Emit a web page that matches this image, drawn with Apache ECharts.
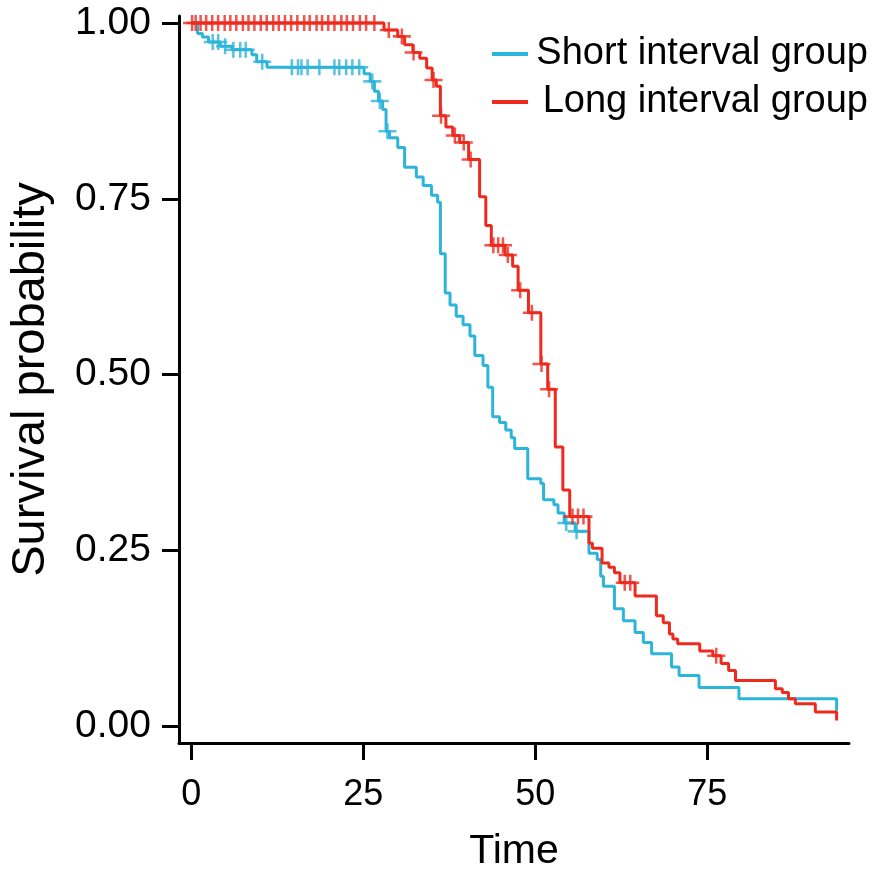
<!DOCTYPE html>
<html><head><meta charset="utf-8">
<script src="https://cdn.jsdelivr.net/npm/echarts@6/dist/echarts.min.js"></script>
<style>html,body{margin:0;padding:0;background:#fff}#c{width:886px;height:877px}</style>
</head><body><div id="c"></div>
<script>
const xTicks = [0, 25, 50, 75];
const yTicks = [0, 0.25, 0.5, 0.75, 1];
const groupNames = ['Short interval group', 'Long interval group'];

const shortTimes = [0, 0.9, 1.6, 2.5, 4.2, 5.9, 8.8, 9.5, 11.0, 25.1, 26.0, 26.6, 27.2, 27.8, 28.3, 28.8, 30.0, 31.0, 32.7, 33.7, 34.9, 35.8, 36.2, 36.9, 37.6, 38.5, 39.5, 40.5, 41.2, 42.4, 43.1, 43.8, 44.8, 45.7, 46.5, 47.0, 48.9, 50.8, 51.2, 52.7, 53.3, 54.2, 55.8, 57.8, 59.0, 59.5, 59.9, 61.5, 62.8, 64.5, 65.7, 66.9, 69.8, 70.9, 73.8, 79.6, 93.8];
const shortSurv  = [1.0, 0.985, 0.98, 0.973, 0.967, 0.962, 0.955, 0.945, 0.937, 0.928, 0.917, 0.903, 0.889, 0.877, 0.846, 0.837, 0.823, 0.795, 0.781, 0.769, 0.755, 0.745, 0.672, 0.616, 0.599, 0.583, 0.571, 0.555, 0.527, 0.513, 0.482, 0.44, 0.432, 0.421, 0.41, 0.395, 0.352, 0.345, 0.322, 0.315, 0.303, 0.289, 0.277, 0.246, 0.237, 0.213, 0.199, 0.167, 0.15, 0.133, 0.119, 0.103, 0.084, 0.072, 0.055, 0.039, 0.022];
const shortCensor = [3.1, 3.9, 4.9, 6.1, 7.1, 7.9, 10.3, 14.6, 15.5, 16.0, 16.9, 18.6, 20.8, 21.5, 22.5, 23.4, 24.4, 26.3, 27.4, 28.5, 54.5, 56.0];

const longTimes = [0, 28.0, 30.0, 31.0, 32.2, 33.2, 34.2, 35.0, 35.6, 36.2, 37.0, 38.0, 39.0, 40.3, 41.9, 42.8, 43.6, 45.6, 46.7, 47.5, 49.0, 50.8, 51.8, 52.9, 54.0, 55.0, 57.8, 58.3, 59.7, 60.7, 61.5, 62.3, 64.5, 67.6, 68.6, 69.5, 70.0, 70.7, 73.9, 75.8, 77.0, 78.1, 79.1, 84.9, 85.9, 86.8, 87.8, 90.7, 93.8];
const longSurv  = [1.0, 0.99, 0.981, 0.969, 0.958, 0.95, 0.936, 0.919, 0.91, 0.868, 0.852, 0.84, 0.83, 0.806, 0.753, 0.712, 0.684, 0.67, 0.654, 0.62, 0.588, 0.515, 0.479, 0.397, 0.336, 0.298, 0.26, 0.253, 0.232, 0.226, 0.218, 0.204, 0.185, 0.157, 0.147, 0.131, 0.124, 0.117, 0.107, 0.10, 0.089, 0.079, 0.065, 0.053, 0.048, 0.039, 0.032, 0.02, 0.008];
const longCensor = [0.1, 0.62, 1.34, 2.15, 3.03, 3.89, 4.84, 5.66, 6.53, 7.49, 8.30, 9.16, 10.09, 10.95, 11.9, 12.7, 13.6, 14.5, 15.4, 16.4, 17.2, 18.2, 19.0, 19.9, 20.8, 21.8, 22.6, 23.5, 24.5, 25.4, 26.6, 28.7, 30.6, 32.3, 35.2, 36.3, 38.3, 39.6, 40.6, 43.9, 44.6, 45.3, 46.0, 47.8, 49.5, 50.9, 52.0, 55.4, 56.2, 57.0, 63.0, 63.8, 76.3];

const colors = ['#2db4d9', '#ee2a1e'];
const FONT = '"Liberation Sans", Arial, Helvetica, sans-serif';

function survAt(times, surv, t) {
  let s = surv[0];
  for (let i = 0; i < times.length; i++) if (times[i] <= t) s = surv[i];
  return s;
}
function stepData(times, surv) { return times.map((t, i) => [t, surv[i]]); }
function censorData(times, surv, cens) { return cens.map(t => [t, survAt(times, surv, t)]); }

const crossPath = 'path://M-0.14,-1H0.14V-0.16H1V0.16H0.14V1H-0.14V0.16H-1V-0.16H-0.14Z';

const chart = echarts.init(document.getElementById('c'), null, {renderer: 'canvas'});
chart.setOption({
  animation: false,
  backgroundColor: '#fff',
  grid: {left: 173, top: 16, width: 676, height: 732},
  legend: {
    orient: 'vertical', left: 492, top: 34, itemGap: 8, padding: 0,
    itemWidth: 36, itemHeight: 4,
    data: groupNames.map(n => ({name: n, icon: 'rect'})),
    formatter: n => '{a|' + n + '}',
    textStyle: {
      fontFamily: FONT, fontSize: 38, color: '#000', lineHeight: 40,
      rich: {a: {width: 335, align: 'right', fontFamily: FONT, fontSize: 38, color: '#000', lineHeight: 40}}
    }
  },
  xAxis: {
    type: 'value', min: -1.8, max: 95.6,
    name: 'Time', nameLocation: 'middle', nameGap: 88,
    nameTextStyle: {fontFamily: FONT, fontSize: 41, color: '#000'},
    axisLine: {show: true, onZero: false, lineStyle: {color: '#000', width: 3}},
    axisTick: {show: true, customValues: xTicks, length: 17, lineStyle: {color: '#000', width: 3}},
    axisLabel: {customValues: xTicks, fontFamily: FONT, fontSize: 36, color: '#000', margin: 34},
    splitLine: {show: false}
  },
  yAxis: {
    type: 'value', min: -0.024, max: 1.01,
    name: 'Survival probability', nameLocation: 'middle', nameGap: 124, nameRotate: 90,
    nameTextStyle: {fontFamily: FONT, fontSize: 47, color: '#000'},
    axisLine: {show: true, onZero: false, lineStyle: {color: '#000', width: 3}},
    axisTick: {show: true, customValues: yTicks, length: 17, lineStyle: {color: '#000', width: 3}},
    axisLabel: {customValues: yTicks, formatter: v => v.toFixed(2), fontFamily: FONT, fontSize: 39, color: '#000', margin: 28},
    splitLine: {show: false}
  },
  series: [
    {name: groupNames[0], type: 'line', step: 'end', showSymbol: false, color: colors[0],
     lineStyle: {width: 3, color: colors[0]}, data: stepData(shortTimes, shortSurv), z: 2},
    {name: groupNames[1], type: 'line', step: 'end', showSymbol: false, color: colors[1],
     lineStyle: {width: 3, color: colors[1]}, data: stepData(longTimes, longSurv), z: 3},
    {name: 'short-censor', type: 'scatter', symbol: crossPath, symbolSize: [18, 16],
     itemStyle: {color: colors[0]}, data: censorData(shortTimes, shortSurv, shortCensor), z: 4},
    {name: 'long-censor', type: 'scatter', symbol: crossPath, symbolSize: [18, 16],
     itemStyle: {color: colors[1]}, data: censorData(longTimes, longSurv, longCensor), z: 5}
  ]
});
</script></body></html>
